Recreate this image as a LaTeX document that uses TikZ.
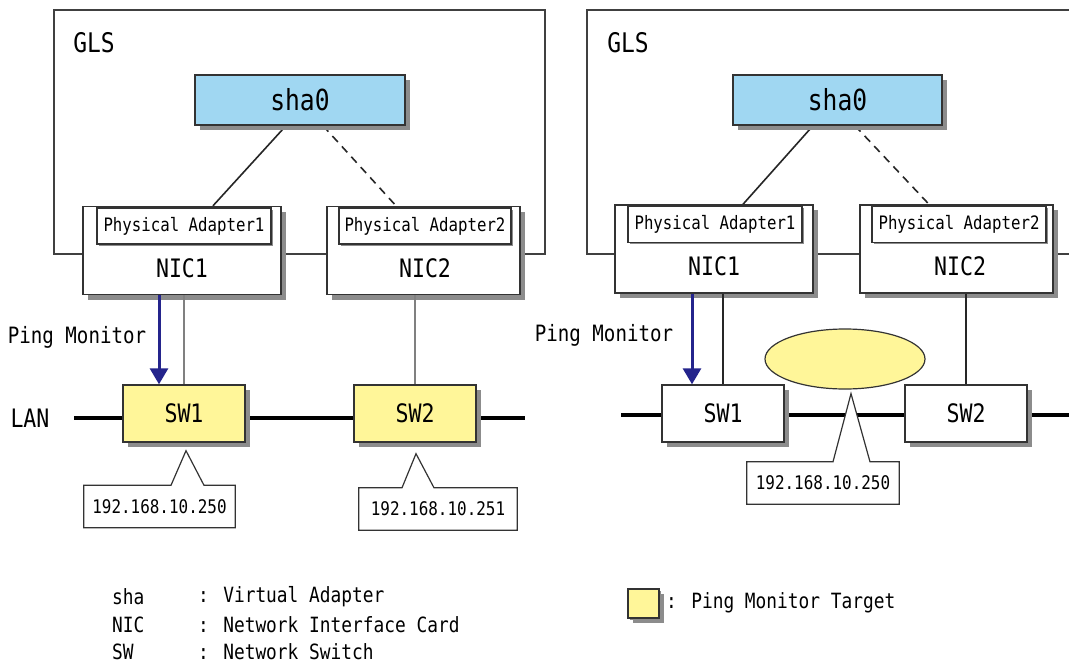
\documentclass[tikz,border=0pt]{standalone}
\usepackage{fontspec}
\usepackage{tikz}
\usetikzlibrary{shapes.geometric}
\usetikzlibrary{shadows}
\usetikzlibrary{arrows.meta}
\usetikzlibrary{backgrounds}
\newfontfamily\glsfont[FakeStretch=0.85]{DejaVu Sans Mono}
\newcommand{\glssize}[1]{\fontsize{#1}{#1}\selectfont}
\definecolor{shablue}{RGB}{160,215,242}
\definecolor{pingyellow}{RGB}{255,246,153}
\definecolor{pingblue}{RGB}{36,36,140}

\begin{document}
\begin{tikzpicture}[x=1pt,y=-1pt,
		box/.style={draw=black!80,line width=1.4pt,fill=white,inner sep=0pt,
			drop shadow={shadow xshift=5pt,shadow yshift=-5pt,fill=black!45,opacity=1}},
		shabox/.style={box,fill=shablue,minimum width=#1,minimum height=50pt,font=\glsfont\glssize{29}},
		nicbox/.style={box,minimum width=#1,minimum height=88pt},
		pabox/.style={draw=black!80,line width=1.2pt,fill=white,inner sep=0pt,minimum width=#1,minimum height=36pt,
			font=\glsfont\glssize{18.5},drop shadow={shadow xshift=1.5pt,shadow yshift=-1.5pt,fill=black!45,opacity=1}},
		swbox/.style={box,minimum width=122pt,minimum height=57pt,font=\glsfont\glssize{25.4}},
		target/.style={ellipse,draw=black!80,line width=1.2pt,fill=pingyellow,minimum width=160pt,minimum height=60pt,inner sep=0pt},
		ipbox/.style={inner sep=0pt,minimum width=#1,minimum height=42pt,font=\glsfont\glssize{18.75}},
		callout/.style={draw=black!80,line width=1.2pt,fill=white},
		biglabel/.style={inner sep=0pt,font=\glsfont\glssize{25.4}},
		glslabel/.style={inner sep=0pt,font=\glsfont\glssize{27}},
		pinglabel/.style={inner sep=0pt,font=\glsfont\glssize{22.5}},
		keytxt/.style={inner sep=0pt,anchor=west,font=\glsfont\glssize{21}},
		glsframe/.style={draw=black!75,line width=1.4pt},
		lanline/.style={line width=4.5pt,black},
		link/.style={line width=1.6pt,black!85},
		droplink/.style={line width=1.5pt},
		pingarrow/.style={pingblue,line width=3pt,-{Triangle[width=18pt,length=16pt]}}]
	\clip (0,0) rectangle (1069,664);

	\node[shabox=210pt] (shaA) at (300,100) {sha0};
	\node[nicbox=198pt] (nicA) at (182,250.5) {};
	\node[nicbox=193pt] (nicB) at (423.5,250.5) {};
	\node[pabox=174pt] (paA) at (184,226) {Physical Adapter1};
	\node[pabox=172pt] (paB) at (425,226) {Physical Adapter2};
	\node[biglabel] (nicAtxt) at (182,268) {NIC1};
	\node[biglabel] (nicBtxt) at (425,268) {NIC2};
	\node[glslabel] (glsA) at (94,43) {GLS};
	\node[swbox,fill=pingyellow] (swA) at (184,413.5) {SW1};
	\node[swbox,fill=pingyellow] (swB) at (415,413.5) {SW2};
	\node[biglabel] (lanA) at (30,418) {LAN};
	\node[pinglabel] (pingA) at (77,337) {Ping Monitor};
	\node[ipbox=151pt] (ipA) at (159.5,506.5) {192.168.10.250};
	\node[ipbox=158pt] (ipB) at (438,509) {192.168.10.251};
	\coordinate (tipA) at ([xshift=2pt,yshift=-8pt]swA.south);
	\coordinate (tipB) at ([xshift=1pt,yshift=-11pt]swB.south);

	\node[shabox=209pt] (shaB) at (837.5,100) {sha0};
	\node[nicbox=198pt] (nicC) at (714,249) {};
	\node[nicbox=193pt] (nicD) at (956.5,249) {};
	\node[pabox=174pt] (paC) at (715,224.5) {Physical Adapter1};
	\node[pabox=174pt] (paD) at (959,224.5) {Physical Adapter2};
	\node[biglabel] (nicCtxt) at (714,266) {NIC1};
	\node[biglabel] (nicDtxt) at (960,266) {NIC2};
	\node[glslabel] (glsB) at (628,43) {GLS};
	\node[swbox] (swC) at (723,413.5) {SW1};
	\node[swbox] (swD) at (966,413.5) {SW2};
	\node[target] (ellC) at (845,359) {};
	\node[pinglabel] (pingB) at (604,335) {Ping Monitor};
	\node[ipbox=152pt] (ipC) at (823,483) {192.168.10.250};
	\coordinate (tipC) at ([xshift=6pt,yshift=-4pt]ellC.south);

	\begin{scope}[on background layer]
		\fill[white] (0,0) rectangle (1069,664);
		\draw[glsframe] (54,10) rectangle (545,254);
		\draw[glsframe] (587,10) rectangle (1090,254);
		\draw[link] ([xshift=-14pt]shaA.south) -- ([xshift=31pt]nicA.north);
		\draw[link,dash pattern=on 8pt off 6pt] ([xshift=23pt]shaA.south) -- ([xshift=-27.5pt]nicB.north);
		\draw[link] ([xshift=-24.5pt]shaB.south) -- ([xshift=29pt]nicC.north);
		\draw[link,dash pattern=on 8pt off 6pt] ([xshift=17.5pt]shaB.south) -- ([xshift=-27.5pt]nicD.north);
		\draw[lanline] (74,418) -- (525,418);
		\draw[lanline] (621,415) -- (1090,415);
		\draw[callout] (ipA.north west) -- ([xshift=11.5pt]ipA.north) -- (tipA) -- ([xshift=44.5pt]ipA.north)
			-- (ipA.north east) -- (ipA.south east) -- (ipA.south west) -- cycle;
		\draw[callout] (ipB.north west) -- ([xshift=-36pt]ipB.north) -- (tipB) -- ([xshift=-4pt]ipB.north)
			-- (ipB.north east) -- (ipB.south east) -- (ipB.south west) -- cycle;
		\draw[callout] (ipC.north west) -- ([xshift=10pt]ipC.north) -- (tipC) -- ([xshift=47pt]ipC.north)
			-- (ipC.north east) -- (ipC.south east) -- (ipC.south west) -- cycle;
	\end{scope}

	\draw[droplink,black!50] (swA.north |- nicA.south) -- (swA.north);
	\draw[droplink,black!50] (swB.north |- nicB.south) -- (swB.north);
	\draw[pingarrow] ([xshift=-25pt]swA.north |- nicA.south) -- ([xshift=-25pt]swA.north);
	\draw[droplink,black!85] (swC.north |- nicC.south) -- (swC.north);
	\draw[droplink,black!85] (swD.north |- nicD.south) -- (swD.north);
	\draw[pingarrow] ([xshift=-31pt]swC.north |- nicC.south) -- ([xshift=-31pt]swC.north);

	\node[keytxt] (keySha) at (112,597) {sha};
	\node[keytxt] (keyNic) at (112,625) {NIC};
	\node[keytxt] (keySw) at (112,652) {SW};
	\node[keytxt] (keyShaD) at (198,597) {: Virtual Adapter};
	\node[keytxt] (keyNicD) at (198,625) {: Network Interface Card};
	\node[keytxt] (keySwD) at (198,652) {: Network Switch};
	\node[box,fill=pingyellow,minimum width=31pt,minimum height=29pt,
		drop shadow={shadow xshift=2pt,shadow yshift=-2pt,fill=black!45,opacity=1}] (keyBox) at (643.5,603.5) {};
	\node[keytxt] (keyBoxD) at (666,603) {: Ping Monitor Target};
\end{tikzpicture}
\end{document}
